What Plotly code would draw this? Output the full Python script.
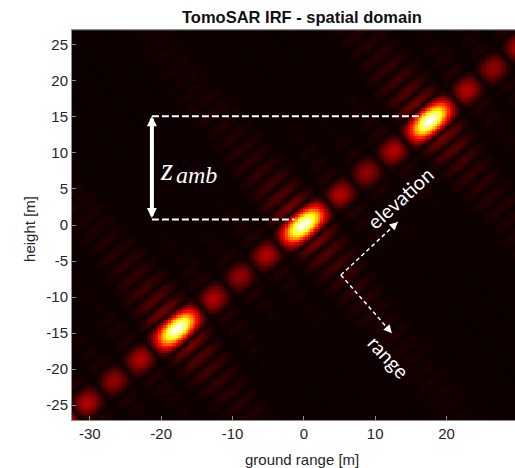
import numpy as np
import plotly.graph_objects as go

# ---- axis ticks ----
x_ticks = [-30, -20, -10, 0, 10, 20, 30]
y_ticks = [-25, -20, -15, -10, -5, 0, 5, 10, 15, 20, 25]

# ---- IRF parameters ----
n_tracks = 5                 # elevation lobes: 3 sidelobes between ambiguities
amb_vec = [17.75, 14.45]     # ground range / height offset between ambiguous peaks (m)
range_res = 2.1              # range sidelobe spacing (m)
range_window = 0.85          # raised-cosine spectral weighting coefficient
grid_step = 0.35             # image pixel size (m)
x_extent = [-32.5, 32.5]
y_extent = [-27.05, 27.05]

gx = np.arange(x_extent[0], x_extent[1] + 1e-9, grid_step)
gy = np.arange(y_extent[0], y_extent[1] + 1e-9, grid_step)
X, Y = np.meshgrid(gx, gy)
P = float(np.hypot(*amb_vec))
ex, ey = amb_vec[0] / P, amb_vec[1] / P
s = X * ex + Y * ey          # elevation coordinate
r = X * ey - Y * ex          # range coordinate
u = np.pi * s / P
den = n_tracks * np.sin(u)
with np.errstate(divide="ignore", invalid="ignore"):
    D = np.where(np.abs(den) < 1e-9, 1.0, np.sin(n_tracks * u) / den)
t = r / range_res
a = range_window
R = (a * np.sinc(t) + (1 - a) / 2 * (np.sinc(t - 1) + np.sinc(t + 1))) / a
Z = np.abs(D * R)

hot = [[0.0, "rgb(11,0,0)"], [0.365, "rgb(255,0,0)"],
       [0.746, "rgb(255,255,0)"], [1.0, "rgb(255,255,255)"]]

fig = go.Figure(go.Heatmap(x=gx, y=gy, z=Z, colorscale=hot, zmin=0, zmax=1,
                           showscale=False, zsmooth=False, hoverinfo="skip"))

# ---- annotation geometry (data coords) ----
amb_x = -21.3
amb_top, amb_bot = 15.1, 0.75
top_line_end, bot_line_end = 16.7, -1.3
corner = [5.19, -6.94]
elev_head = [13.18, 0.42]
range_head = [12.34, -15.0]

white = "white"
shapes = [
    dict(type="line", x0=amb_x, x1=top_line_end, y0=amb_top, y1=amb_top,
         line=dict(color=white, width=2, dash="7px,3px")),
    dict(type="line", x0=amb_x, x1=bot_line_end, y0=amb_bot, y1=amb_bot,
         line=dict(color=white, width=2, dash="7px,3px")),
    dict(type="line", x0=corner[0], y0=corner[1], x1=elev_head[0], y1=elev_head[1],
         line=dict(color=white, width=1.5, dash="4px,3px")),
    dict(type="line", x0=corner[0], y0=corner[1], x1=range_head[0], y1=range_head[1],
         line=dict(color=white, width=1.5, dash="4px,3px")),
]

font_family = "Liberation Sans, Arial, sans-serif"
C = dict(xanchor="center", yanchor="middle", showarrow=False)
annotations = [
    dict(x=amb_x, y=amb_top, ax=amb_x, ay=amb_bot, axref="x", ayref="y",
         xref="x", yref="y", text="", showarrow=True, arrowside="end+start",
         arrowhead=2, startarrowhead=2, arrowwidth=4, arrowsize=0.5,
         startarrowsize=0.5, arrowcolor=white),
    dict(x=elev_head[0], y=elev_head[1], ax=-6, ay=5.5, xref="x", yref="y",
         text="", showarrow=True, arrowhead=2, arrowwidth=1.5, arrowsize=1.1,
         arrowcolor=white),
    dict(x=range_head[0], y=range_head[1], ax=-5.3, ay=-6, xref="x", yref="y",
         text="", showarrow=True, arrowhead=2, arrowwidth=1.5, arrowsize=1.1,
         arrowcolor=white),
    dict(x=-19.2, y=7.7, xref="x", yref="y", text="<i>z</i>",
         font=dict(family="Liberation Serif, serif", size=31, color=white), **C),
    dict(x=-15.0, y=6.9, xref="x", yref="y", text="<i>amb</i>",
         font=dict(family="Liberation Serif, serif", size=24, color=white), **C),
    dict(x=13.46, y=3.75, xref="x", yref="y", text="elevation", textangle=-42,
         font=dict(family="Lato, sans-serif", size=20, color=white), **C),
    dict(x=11.92, y=-18.33, xref="x", yref="y", text="range", textangle=47,
         font=dict(family="Lato, sans-serif", size=20, color=white), **C),
    dict(x=0.519, y=1.033, xref="paper", yref="paper", text="<b>TomoSAR IRF - spatial domain</b>",
         font=dict(family=font_family, size=16.5, color="#111111"), **C),
    dict(x=0.519, y=-0.10, xref="paper", yref="paper", text="ground range [m]",
         font=dict(family=font_family, size=15, color="#262626"), **C),
    dict(x=-0.0948, y=0.49, xref="paper", yref="paper", text="height [m]", textangle=-90,
         font=dict(family=font_family, size=15, color="#262626"), **C),
]

axis_common = dict(showgrid=False, zeroline=False, showline=True, linecolor="#8c8c8c",
                   linewidth=1, mirror=True, ticks="inside", ticklen=4,
                   tickcolor="#8c8c8c", tickfont=dict(family=font_family, size=15, color="#262626"))

fig.update_layout(
    width=515, height=468,
    margin=dict(l=72, r=0, t=30, b=48),
    paper_bgcolor="white", plot_bgcolor="white",
    shapes=shapes, annotations=annotations,
    xaxis=dict(range=[-32.5, 29.6], tickvals=x_ticks, ticktext=[str(v) for v in x_ticks], **axis_common),
    yaxis=dict(range=list(y_extent), tickvals=y_ticks, ticktext=[str(v) for v in y_ticks], **axis_common),
)

fig.write_html("out.html", config={"displayModeBar": False},
               post_script="document.body.style.margin='0';document.body.style.overflow='hidden';")
